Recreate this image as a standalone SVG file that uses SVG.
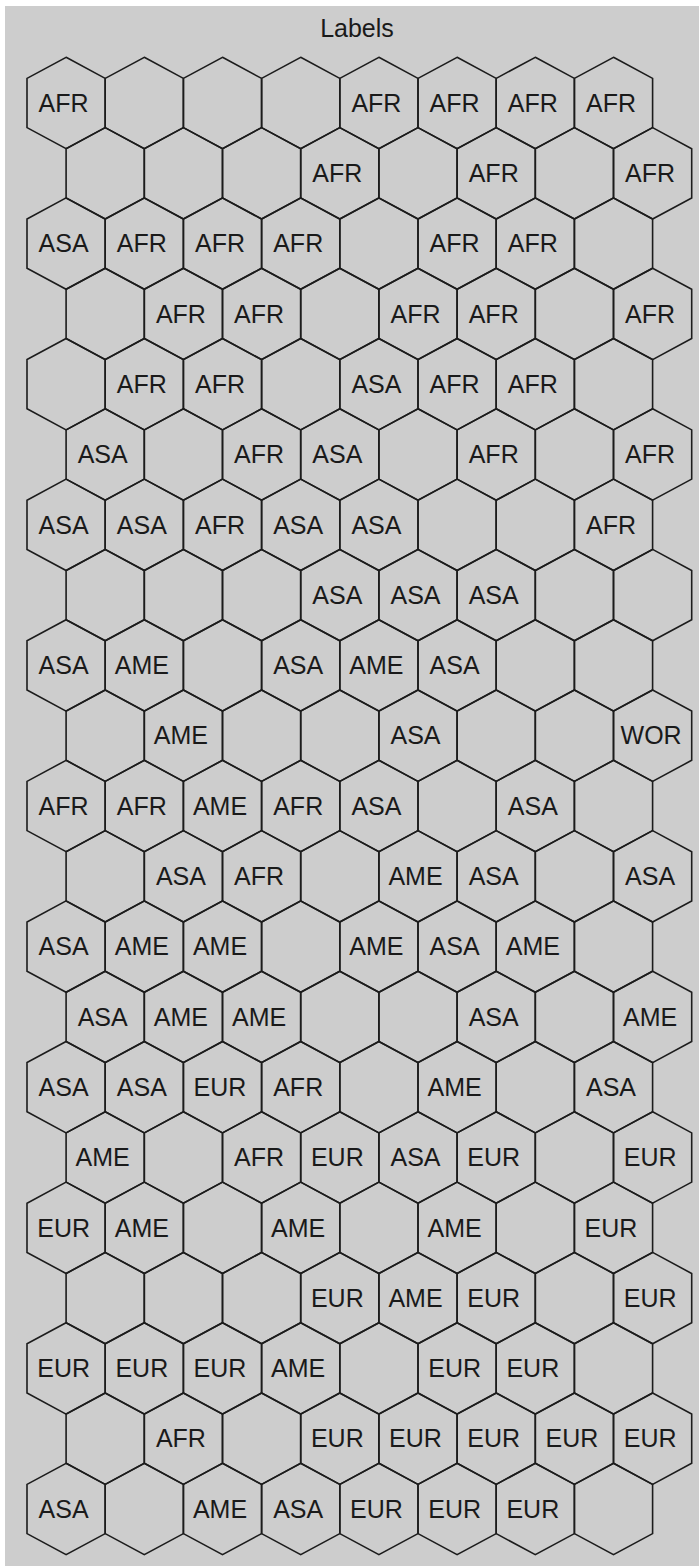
<svg xmlns="http://www.w3.org/2000/svg" xmlns:xlink="http://www.w3.org/1999/xlink" width="699" height="1566" viewBox="0 0 699 1566">
<style>
.hx{fill:none;stroke:#1c1c1c;stroke-width:1.6;stroke-linejoin:miter}
text{font-family:"Liberation Sans",Arial,sans-serif;fill:#1a1a1a}
.lb{font-size:25px;text-anchor:middle}
.tt{font-size:25px;text-anchor:middle}
</style>
<defs>
<polygon id="hex" class="hx" points="0,-45.7 39.1,-24.6 39.1,24.6 0,45.7 -39.1,24.6 -39.1,-24.6"/>
</defs>
<rect x="0" y="0" width="699" height="1566" fill="#ffffff"/>
<rect x="5" y="6" width="694" height="1560" fill="#cdcdcd"/>
<text class="tt" x="357" y="37">Labels</text>
<g id="row0" transform="translate(0,103)">
<g id="h0-0" transform="translate(66.1,0)"><use href="#hex"/><text class="lb" x="-2.5" y="8.7">AFR</text></g>
<g id="h0-1" transform="translate(144.3,0)"><use href="#hex"/></g>
<g id="h0-2" transform="translate(222.5,0)"><use href="#hex"/></g>
<g id="h0-3" transform="translate(300.7,0)"><use href="#hex"/></g>
<g id="h0-4" transform="translate(378.9,0)"><use href="#hex"/><text class="lb" x="-2.5" y="8.7">AFR</text></g>
<g id="h0-5" transform="translate(457.1,0)"><use href="#hex"/><text class="lb" x="-2.5" y="8.7">AFR</text></g>
<g id="h0-6" transform="translate(535.3,0)"><use href="#hex"/><text class="lb" x="-2.5" y="8.7">AFR</text></g>
<g id="h0-7" transform="translate(613.5,0)"><use href="#hex"/><text class="lb" x="-2.5" y="8.7">AFR</text></g>
</g>
<g id="row1" transform="translate(0,173.3)">
<g id="h1-0" transform="translate(105.2,0)"><use href="#hex"/></g>
<g id="h1-1" transform="translate(183.4,0)"><use href="#hex"/></g>
<g id="h1-2" transform="translate(261.6,0)"><use href="#hex"/></g>
<g id="h1-3" transform="translate(339.8,0)"><use href="#hex"/><text class="lb" x="-2.5" y="8.7">AFR</text></g>
<g id="h1-4" transform="translate(418,0)"><use href="#hex"/></g>
<g id="h1-5" transform="translate(496.2,0)"><use href="#hex"/><text class="lb" x="-2.5" y="8.7">AFR</text></g>
<g id="h1-6" transform="translate(574.4,0)"><use href="#hex"/></g>
<g id="h1-7" transform="translate(652.6,0)"><use href="#hex"/><text class="lb" x="-2.5" y="8.7">AFR</text></g>
</g>
<g id="row2" transform="translate(0,243.6)">
<g id="h2-0" transform="translate(66.1,0)"><use href="#hex"/><text class="lb" x="-2.5" y="8.7">ASA</text></g>
<g id="h2-1" transform="translate(144.3,0)"><use href="#hex"/><text class="lb" x="-2.5" y="8.7">AFR</text></g>
<g id="h2-2" transform="translate(222.5,0)"><use href="#hex"/><text class="lb" x="-2.5" y="8.7">AFR</text></g>
<g id="h2-3" transform="translate(300.7,0)"><use href="#hex"/><text class="lb" x="-2.5" y="8.7">AFR</text></g>
<g id="h2-4" transform="translate(378.9,0)"><use href="#hex"/></g>
<g id="h2-5" transform="translate(457.1,0)"><use href="#hex"/><text class="lb" x="-2.5" y="8.7">AFR</text></g>
<g id="h2-6" transform="translate(535.3,0)"><use href="#hex"/><text class="lb" x="-2.5" y="8.7">AFR</text></g>
<g id="h2-7" transform="translate(613.5,0)"><use href="#hex"/></g>
</g>
<g id="row3" transform="translate(0,313.9)">
<g id="h3-0" transform="translate(105.2,0)"><use href="#hex"/></g>
<g id="h3-1" transform="translate(183.4,0)"><use href="#hex"/><text class="lb" x="-2.5" y="8.7">AFR</text></g>
<g id="h3-2" transform="translate(261.6,0)"><use href="#hex"/><text class="lb" x="-2.5" y="8.7">AFR</text></g>
<g id="h3-3" transform="translate(339.8,0)"><use href="#hex"/></g>
<g id="h3-4" transform="translate(418,0)"><use href="#hex"/><text class="lb" x="-2.5" y="8.7">AFR</text></g>
<g id="h3-5" transform="translate(496.2,0)"><use href="#hex"/><text class="lb" x="-2.5" y="8.7">AFR</text></g>
<g id="h3-6" transform="translate(574.4,0)"><use href="#hex"/></g>
<g id="h3-7" transform="translate(652.6,0)"><use href="#hex"/><text class="lb" x="-2.5" y="8.7">AFR</text></g>
</g>
<g id="row4" transform="translate(0,384.2)">
<g id="h4-0" transform="translate(66.1,0)"><use href="#hex"/></g>
<g id="h4-1" transform="translate(144.3,0)"><use href="#hex"/><text class="lb" x="-2.5" y="8.7">AFR</text></g>
<g id="h4-2" transform="translate(222.5,0)"><use href="#hex"/><text class="lb" x="-2.5" y="8.7">AFR</text></g>
<g id="h4-3" transform="translate(300.7,0)"><use href="#hex"/></g>
<g id="h4-4" transform="translate(378.9,0)"><use href="#hex"/><text class="lb" x="-2.5" y="8.7">ASA</text></g>
<g id="h4-5" transform="translate(457.1,0)"><use href="#hex"/><text class="lb" x="-2.5" y="8.7">AFR</text></g>
<g id="h4-6" transform="translate(535.3,0)"><use href="#hex"/><text class="lb" x="-2.5" y="8.7">AFR</text></g>
<g id="h4-7" transform="translate(613.5,0)"><use href="#hex"/></g>
</g>
<g id="row5" transform="translate(0,454.5)">
<g id="h5-0" transform="translate(105.2,0)"><use href="#hex"/><text class="lb" x="-2.5" y="8.7">ASA</text></g>
<g id="h5-1" transform="translate(183.4,0)"><use href="#hex"/></g>
<g id="h5-2" transform="translate(261.6,0)"><use href="#hex"/><text class="lb" x="-2.5" y="8.7">AFR</text></g>
<g id="h5-3" transform="translate(339.8,0)"><use href="#hex"/><text class="lb" x="-2.5" y="8.7">ASA</text></g>
<g id="h5-4" transform="translate(418,0)"><use href="#hex"/></g>
<g id="h5-5" transform="translate(496.2,0)"><use href="#hex"/><text class="lb" x="-2.5" y="8.7">AFR</text></g>
<g id="h5-6" transform="translate(574.4,0)"><use href="#hex"/></g>
<g id="h5-7" transform="translate(652.6,0)"><use href="#hex"/><text class="lb" x="-2.5" y="8.7">AFR</text></g>
</g>
<g id="row6" transform="translate(0,524.8)">
<g id="h6-0" transform="translate(66.1,0)"><use href="#hex"/><text class="lb" x="-2.5" y="8.7">ASA</text></g>
<g id="h6-1" transform="translate(144.3,0)"><use href="#hex"/><text class="lb" x="-2.5" y="8.7">ASA</text></g>
<g id="h6-2" transform="translate(222.5,0)"><use href="#hex"/><text class="lb" x="-2.5" y="8.7">AFR</text></g>
<g id="h6-3" transform="translate(300.7,0)"><use href="#hex"/><text class="lb" x="-2.5" y="8.7">ASA</text></g>
<g id="h6-4" transform="translate(378.9,0)"><use href="#hex"/><text class="lb" x="-2.5" y="8.7">ASA</text></g>
<g id="h6-5" transform="translate(457.1,0)"><use href="#hex"/></g>
<g id="h6-6" transform="translate(535.3,0)"><use href="#hex"/></g>
<g id="h6-7" transform="translate(613.5,0)"><use href="#hex"/><text class="lb" x="-2.5" y="8.7">AFR</text></g>
</g>
<g id="row7" transform="translate(0,595.1)">
<g id="h7-0" transform="translate(105.2,0)"><use href="#hex"/></g>
<g id="h7-1" transform="translate(183.4,0)"><use href="#hex"/></g>
<g id="h7-2" transform="translate(261.6,0)"><use href="#hex"/></g>
<g id="h7-3" transform="translate(339.8,0)"><use href="#hex"/><text class="lb" x="-2.5" y="8.7">ASA</text></g>
<g id="h7-4" transform="translate(418,0)"><use href="#hex"/><text class="lb" x="-2.5" y="8.7">ASA</text></g>
<g id="h7-5" transform="translate(496.2,0)"><use href="#hex"/><text class="lb" x="-2.5" y="8.7">ASA</text></g>
<g id="h7-6" transform="translate(574.4,0)"><use href="#hex"/></g>
<g id="h7-7" transform="translate(652.6,0)"><use href="#hex"/></g>
</g>
<g id="row8" transform="translate(0,665.4)">
<g id="h8-0" transform="translate(66.1,0)"><use href="#hex"/><text class="lb" x="-2.5" y="8.7">ASA</text></g>
<g id="h8-1" transform="translate(144.3,0)"><use href="#hex"/><text class="lb" x="-2.5" y="8.7">AME</text></g>
<g id="h8-2" transform="translate(222.5,0)"><use href="#hex"/></g>
<g id="h8-3" transform="translate(300.7,0)"><use href="#hex"/><text class="lb" x="-2.5" y="8.7">ASA</text></g>
<g id="h8-4" transform="translate(378.9,0)"><use href="#hex"/><text class="lb" x="-2.5" y="8.7">AME</text></g>
<g id="h8-5" transform="translate(457.1,0)"><use href="#hex"/><text class="lb" x="-2.5" y="8.7">ASA</text></g>
<g id="h8-6" transform="translate(535.3,0)"><use href="#hex"/></g>
<g id="h8-7" transform="translate(613.5,0)"><use href="#hex"/></g>
</g>
<g id="row9" transform="translate(0,735.7)">
<g id="h9-0" transform="translate(105.2,0)"><use href="#hex"/></g>
<g id="h9-1" transform="translate(183.4,0)"><use href="#hex"/><text class="lb" x="-2.5" y="8.7">AME</text></g>
<g id="h9-2" transform="translate(261.6,0)"><use href="#hex"/></g>
<g id="h9-3" transform="translate(339.8,0)"><use href="#hex"/></g>
<g id="h9-4" transform="translate(418,0)"><use href="#hex"/><text class="lb" x="-2.5" y="8.7">ASA</text></g>
<g id="h9-5" transform="translate(496.2,0)"><use href="#hex"/></g>
<g id="h9-6" transform="translate(574.4,0)"><use href="#hex"/></g>
<g id="h9-7" transform="translate(652.6,0)"><use href="#hex"/><text class="lb" x="-1.5" y="8.7">WOR</text></g>
</g>
<g id="row10" transform="translate(0,806)">
<g id="h10-0" transform="translate(66.1,0)"><use href="#hex"/><text class="lb" x="-2.5" y="8.7">AFR</text></g>
<g id="h10-1" transform="translate(144.3,0)"><use href="#hex"/><text class="lb" x="-2.5" y="8.7">AFR</text></g>
<g id="h10-2" transform="translate(222.5,0)"><use href="#hex"/><text class="lb" x="-2.5" y="8.7">AME</text></g>
<g id="h10-3" transform="translate(300.7,0)"><use href="#hex"/><text class="lb" x="-2.5" y="8.7">AFR</text></g>
<g id="h10-4" transform="translate(378.9,0)"><use href="#hex"/><text class="lb" x="-2.5" y="8.7">ASA</text></g>
<g id="h10-5" transform="translate(457.1,0)"><use href="#hex"/></g>
<g id="h10-6" transform="translate(535.3,0)"><use href="#hex"/><text class="lb" x="-2.5" y="8.7">ASA</text></g>
<g id="h10-7" transform="translate(613.5,0)"><use href="#hex"/></g>
</g>
<g id="row11" transform="translate(0,876.3)">
<g id="h11-0" transform="translate(105.2,0)"><use href="#hex"/></g>
<g id="h11-1" transform="translate(183.4,0)"><use href="#hex"/><text class="lb" x="-2.5" y="8.7">ASA</text></g>
<g id="h11-2" transform="translate(261.6,0)"><use href="#hex"/><text class="lb" x="-2.5" y="8.7">AFR</text></g>
<g id="h11-3" transform="translate(339.8,0)"><use href="#hex"/></g>
<g id="h11-4" transform="translate(418,0)"><use href="#hex"/><text class="lb" x="-2.5" y="8.7">AME</text></g>
<g id="h11-5" transform="translate(496.2,0)"><use href="#hex"/><text class="lb" x="-2.5" y="8.7">ASA</text></g>
<g id="h11-6" transform="translate(574.4,0)"><use href="#hex"/></g>
<g id="h11-7" transform="translate(652.6,0)"><use href="#hex"/><text class="lb" x="-2.5" y="8.7">ASA</text></g>
</g>
<g id="row12" transform="translate(0,946.6)">
<g id="h12-0" transform="translate(66.1,0)"><use href="#hex"/><text class="lb" x="-2.5" y="8.7">ASA</text></g>
<g id="h12-1" transform="translate(144.3,0)"><use href="#hex"/><text class="lb" x="-2.5" y="8.7">AME</text></g>
<g id="h12-2" transform="translate(222.5,0)"><use href="#hex"/><text class="lb" x="-2.5" y="8.7">AME</text></g>
<g id="h12-3" transform="translate(300.7,0)"><use href="#hex"/></g>
<g id="h12-4" transform="translate(378.9,0)"><use href="#hex"/><text class="lb" x="-2.5" y="8.7">AME</text></g>
<g id="h12-5" transform="translate(457.1,0)"><use href="#hex"/><text class="lb" x="-2.5" y="8.7">ASA</text></g>
<g id="h12-6" transform="translate(535.3,0)"><use href="#hex"/><text class="lb" x="-2.5" y="8.7">AME</text></g>
<g id="h12-7" transform="translate(613.5,0)"><use href="#hex"/></g>
</g>
<g id="row13" transform="translate(0,1016.9)">
<g id="h13-0" transform="translate(105.2,0)"><use href="#hex"/><text class="lb" x="-2.5" y="8.7">ASA</text></g>
<g id="h13-1" transform="translate(183.4,0)"><use href="#hex"/><text class="lb" x="-2.5" y="8.7">AME</text></g>
<g id="h13-2" transform="translate(261.6,0)"><use href="#hex"/><text class="lb" x="-2.5" y="8.7">AME</text></g>
<g id="h13-3" transform="translate(339.8,0)"><use href="#hex"/></g>
<g id="h13-4" transform="translate(418,0)"><use href="#hex"/></g>
<g id="h13-5" transform="translate(496.2,0)"><use href="#hex"/><text class="lb" x="-2.5" y="8.7">ASA</text></g>
<g id="h13-6" transform="translate(574.4,0)"><use href="#hex"/></g>
<g id="h13-7" transform="translate(652.6,0)"><use href="#hex"/><text class="lb" x="-2.5" y="8.7">AME</text></g>
</g>
<g id="row14" transform="translate(0,1087.2)">
<g id="h14-0" transform="translate(66.1,0)"><use href="#hex"/><text class="lb" x="-2.5" y="8.7">ASA</text></g>
<g id="h14-1" transform="translate(144.3,0)"><use href="#hex"/><text class="lb" x="-2.5" y="8.7">ASA</text></g>
<g id="h14-2" transform="translate(222.5,0)"><use href="#hex"/><text class="lb" x="-2.5" y="8.7">EUR</text></g>
<g id="h14-3" transform="translate(300.7,0)"><use href="#hex"/><text class="lb" x="-2.5" y="8.7">AFR</text></g>
<g id="h14-4" transform="translate(378.9,0)"><use href="#hex"/></g>
<g id="h14-5" transform="translate(457.1,0)"><use href="#hex"/><text class="lb" x="-2.5" y="8.7">AME</text></g>
<g id="h14-6" transform="translate(535.3,0)"><use href="#hex"/></g>
<g id="h14-7" transform="translate(613.5,0)"><use href="#hex"/><text class="lb" x="-2.5" y="8.7">ASA</text></g>
</g>
<g id="row15" transform="translate(0,1157.5)">
<g id="h15-0" transform="translate(105.2,0)"><use href="#hex"/><text class="lb" x="-2.5" y="8.7">AME</text></g>
<g id="h15-1" transform="translate(183.4,0)"><use href="#hex"/></g>
<g id="h15-2" transform="translate(261.6,0)"><use href="#hex"/><text class="lb" x="-2.5" y="8.7">AFR</text></g>
<g id="h15-3" transform="translate(339.8,0)"><use href="#hex"/><text class="lb" x="-2.5" y="8.7">EUR</text></g>
<g id="h15-4" transform="translate(418,0)"><use href="#hex"/><text class="lb" x="-2.5" y="8.7">ASA</text></g>
<g id="h15-5" transform="translate(496.2,0)"><use href="#hex"/><text class="lb" x="-2.5" y="8.7">EUR</text></g>
<g id="h15-6" transform="translate(574.4,0)"><use href="#hex"/></g>
<g id="h15-7" transform="translate(652.6,0)"><use href="#hex"/><text class="lb" x="-2.5" y="8.7">EUR</text></g>
</g>
<g id="row16" transform="translate(0,1227.8)">
<g id="h16-0" transform="translate(66.1,0)"><use href="#hex"/><text class="lb" x="-2.5" y="8.7">EUR</text></g>
<g id="h16-1" transform="translate(144.3,0)"><use href="#hex"/><text class="lb" x="-2.5" y="8.7">AME</text></g>
<g id="h16-2" transform="translate(222.5,0)"><use href="#hex"/></g>
<g id="h16-3" transform="translate(300.7,0)"><use href="#hex"/><text class="lb" x="-2.5" y="8.7">AME</text></g>
<g id="h16-4" transform="translate(378.9,0)"><use href="#hex"/></g>
<g id="h16-5" transform="translate(457.1,0)"><use href="#hex"/><text class="lb" x="-2.5" y="8.7">AME</text></g>
<g id="h16-6" transform="translate(535.3,0)"><use href="#hex"/></g>
<g id="h16-7" transform="translate(613.5,0)"><use href="#hex"/><text class="lb" x="-2.5" y="8.7">EUR</text></g>
</g>
<g id="row17" transform="translate(0,1298.1)">
<g id="h17-0" transform="translate(105.2,0)"><use href="#hex"/></g>
<g id="h17-1" transform="translate(183.4,0)"><use href="#hex"/></g>
<g id="h17-2" transform="translate(261.6,0)"><use href="#hex"/></g>
<g id="h17-3" transform="translate(339.8,0)"><use href="#hex"/><text class="lb" x="-2.5" y="8.7">EUR</text></g>
<g id="h17-4" transform="translate(418,0)"><use href="#hex"/><text class="lb" x="-2.5" y="8.7">AME</text></g>
<g id="h17-5" transform="translate(496.2,0)"><use href="#hex"/><text class="lb" x="-2.5" y="8.7">EUR</text></g>
<g id="h17-6" transform="translate(574.4,0)"><use href="#hex"/></g>
<g id="h17-7" transform="translate(652.6,0)"><use href="#hex"/><text class="lb" x="-2.5" y="8.7">EUR</text></g>
</g>
<g id="row18" transform="translate(0,1368.4)">
<g id="h18-0" transform="translate(66.1,0)"><use href="#hex"/><text class="lb" x="-2.5" y="8.7">EUR</text></g>
<g id="h18-1" transform="translate(144.3,0)"><use href="#hex"/><text class="lb" x="-2.5" y="8.7">EUR</text></g>
<g id="h18-2" transform="translate(222.5,0)"><use href="#hex"/><text class="lb" x="-2.5" y="8.7">EUR</text></g>
<g id="h18-3" transform="translate(300.7,0)"><use href="#hex"/><text class="lb" x="-2.5" y="8.7">AME</text></g>
<g id="h18-4" transform="translate(378.9,0)"><use href="#hex"/></g>
<g id="h18-5" transform="translate(457.1,0)"><use href="#hex"/><text class="lb" x="-2.5" y="8.7">EUR</text></g>
<g id="h18-6" transform="translate(535.3,0)"><use href="#hex"/><text class="lb" x="-2.5" y="8.7">EUR</text></g>
<g id="h18-7" transform="translate(613.5,0)"><use href="#hex"/></g>
</g>
<g id="row19" transform="translate(0,1438.7)">
<g id="h19-0" transform="translate(105.2,0)"><use href="#hex"/></g>
<g id="h19-1" transform="translate(183.4,0)"><use href="#hex"/><text class="lb" x="-2.5" y="8.7">AFR</text></g>
<g id="h19-2" transform="translate(261.6,0)"><use href="#hex"/></g>
<g id="h19-3" transform="translate(339.8,0)"><use href="#hex"/><text class="lb" x="-2.5" y="8.7">EUR</text></g>
<g id="h19-4" transform="translate(418,0)"><use href="#hex"/><text class="lb" x="-2.5" y="8.7">EUR</text></g>
<g id="h19-5" transform="translate(496.2,0)"><use href="#hex"/><text class="lb" x="-2.5" y="8.7">EUR</text></g>
<g id="h19-6" transform="translate(574.4,0)"><use href="#hex"/><text class="lb" x="-2.5" y="8.7">EUR</text></g>
<g id="h19-7" transform="translate(652.6,0)"><use href="#hex"/><text class="lb" x="-2.5" y="8.7">EUR</text></g>
</g>
<g id="row20" transform="translate(0,1509)">
<g id="h20-0" transform="translate(66.1,0)"><use href="#hex"/><text class="lb" x="-2.5" y="8.7">ASA</text></g>
<g id="h20-1" transform="translate(144.3,0)"><use href="#hex"/></g>
<g id="h20-2" transform="translate(222.5,0)"><use href="#hex"/><text class="lb" x="-2.5" y="8.7">AME</text></g>
<g id="h20-3" transform="translate(300.7,0)"><use href="#hex"/><text class="lb" x="-2.5" y="8.7">ASA</text></g>
<g id="h20-4" transform="translate(378.9,0)"><use href="#hex"/><text class="lb" x="-2.5" y="8.7">EUR</text></g>
<g id="h20-5" transform="translate(457.1,0)"><use href="#hex"/><text class="lb" x="-2.5" y="8.7">EUR</text></g>
<g id="h20-6" transform="translate(535.3,0)"><use href="#hex"/><text class="lb" x="-2.5" y="8.7">EUR</text></g>
<g id="h20-7" transform="translate(613.5,0)"><use href="#hex"/></g>
</g>
</svg>
